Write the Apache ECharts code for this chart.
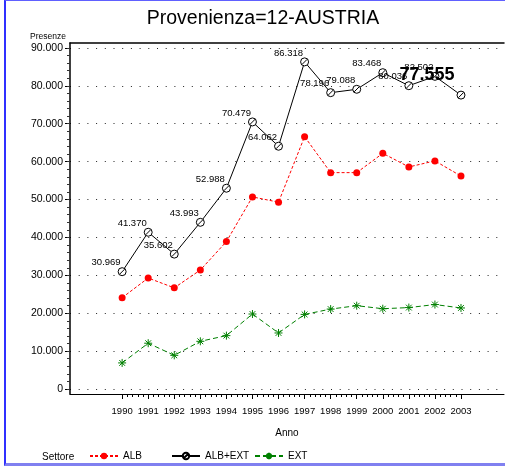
<!DOCTYPE html>
<html>
<head>
<meta charset="utf-8">
<script src="https://cdn.jsdelivr.net/npm/echarts@6/dist/echarts.min.js"></script>
<style>
html,body{margin:0;padding:0;background:#fff;}
#wrap{position:relative;width:505px;height:467px;overflow:hidden;}
#chart{position:absolute;left:0;top:0;width:505px;height:467px;}
#frame{position:absolute;left:4px;top:0;width:620px;height:462px;border-left:2px solid #3030ff;border-top:1px solid #6060ff;border-bottom:3px solid #8080f0;pointer-events:none;}
</style>
</head>
<body>
<div id="wrap"><div id="chart"></div><div id="frame"></div></div>
<script>
// ---- data ----
const years = [1990, 1991, 1992, 1993, 1994, 1995, 1996, 1997, 1998, 1999, 2000, 2001, 2002, 2003];
const albExt = [30969, 41370, 35602, 43993, 52988, 70479, 64062, 86318, 78196, 79088, 83468, 80036, 82502, 77555];
const alb = [24100, 29300, 26700, 31400, 38900, 50700, 49300, 66600, 57100, 57100, 62200, 58600, 60200, 56200];
const ext = [6900, 12100, 8900, 12600, 14100, 19800, 14800, 19700, 21100, 22000, 21200, 21500, 22300, 21400];
const yTicks = [0, 10000, 20000, 30000, 40000, 50000, 60000, 70000, 80000, 90000];
const seriesNames = ['ALB', 'ALB+EXT', 'EXT'];

// ---- helpers ----
const fmt = v => String(Math.round(v)).replace(/\B(?=(\d{3})+(?!\d))/g, '.');
const FONT = "'Liberation Sans', Arial, sans-serif";
const X_MIN = 1988, X_MAX = 2004.65, Y_MIN = -1300, Y_MAX = 91300;

const minorX = [];
for (let y = years[0]; y <= years[years.length - 1] + 1e-9; y += 0.2) minorX.push(+y.toFixed(2));
const minorY = [];
for (let v = yTicks[0]; v <= yTicks[yTicks.length - 1]; v += 2000) minorY.push(v);

const pairs = arr => years.map((y, i) => [y, arr[i]]);
const last = years.length - 1;

const symSlashCircle = 'path://M10,5A5,5,0,1,1,0,5A5,5,0,1,1,10,5ZM1.8,8.2L8.2,1.8';
const symStar = 'path://M5,0L5,10M0,5L10,5M1.4,1.4L8.6,8.6M8.6,1.4L1.4,8.6';

const chart = echarts.init(document.getElementById('chart'), null, {renderer: 'canvas'});
const legendText = {fontFamily: FONT, fontSize: 10, color: '#000'};
const gridRect = {left: 70, right: 1, top: 43, bottom: 73};

chart.setOption({
  animation: false,
  backgroundColor: '#fff',
  title: [
    {text: 'Provenienza=12-AUSTRIA', left: 258, top: 4, textAlign: 'center',
     textStyle: {fontFamily: FONT, fontSize: 19.5, fontWeight: 'normal', color: '#000'}},
    {text: 'Settore', left: 37, top: 447,
     textStyle: {fontFamily: FONT, fontSize: 10, fontWeight: 'normal', color: '#000'}}
  ],
  legend: [
    {data: [seriesNames[0]], left: 84, top: 446, itemWidth: 28, itemHeight: 8, itemGap: 0, textStyle: legendText},
    {data: [seriesNames[1]], left: 166, top: 446, itemWidth: 28, itemHeight: 8, itemGap: 0, textStyle: legendText},
    {data: [seriesNames[2]], left: 249, top: 446, itemWidth: 28, itemHeight: 8, itemGap: 0, textStyle: legendText}
  ],
  grid: [Object.assign({}, gridRect), Object.assign({}, gridRect)],
  xAxis: [
    {gridIndex: 0, type: 'value', min: X_MIN, max: X_MAX, position: 'bottom',
     name: 'Anno', nameLocation: 'middle', nameGap: 34,
     nameTextStyle: {fontFamily: FONT, fontSize: 10, color: '#000'},
     axisLine: {show: true, onZero: false, lineStyle: {color: '#000', width: 1}},
     axisTick: {show: true, customValues: years, length: 5, lineStyle: {color: '#000'}},
     axisLabel: {customValues: years, margin: 12, fontFamily: FONT, fontSize: 9.5, color: '#000',
                 formatter: v => String(Math.round(v))},
     splitLine: {show: false}},
    {gridIndex: 0, type: 'value', min: X_MIN, max: X_MAX, position: 'top',
     axisLine: {show: true, onZero: false, lineStyle: {color: '#000', width: 1.5}},
     axisTick: {show: false}, axisLabel: {show: false}, splitLine: {show: false}},
    {gridIndex: 1, type: 'value', min: X_MIN, max: X_MAX, position: 'bottom',
     axisLine: {show: false, onZero: false},
     axisTick: {show: true, customValues: minorX, length: 3, lineStyle: {color: '#000'}},
     axisLabel: {show: false}, splitLine: {show: false}}
  ],
  yAxis: [
    {gridIndex: 0, type: 'value', min: Y_MIN, max: Y_MAX, position: 'left',
     name: 'Presenze', nameLocation: 'end', nameGap: 2,
     nameTextStyle: {fontFamily: FONT, fontSize: 8.5, color: '#000', align: 'right', padding: [0, 4, 0, 0]},
     axisLine: {show: true, onZero: false, lineStyle: {color: '#000', width: 1.5}},
     axisTick: {show: true, customValues: yTicks, length: 5, lineStyle: {color: '#000'}},
     axisLabel: {customValues: yTicks, margin: 7, fontFamily: FONT, fontSize: 10.5, color: '#000',
                 formatter: v => fmt(v)},
     splitLine: {show: true, lineStyle: {color: '#222', type: [1, 7.7], width: 1}}},
    {gridIndex: 1, type: 'value', min: Y_MIN, max: Y_MAX, position: 'left',
     axisLine: {show: false, onZero: false},
     axisTick: {show: true, customValues: minorY, length: 3, lineStyle: {color: '#333'}},
     axisLabel: {show: false}, splitLine: {show: false}}
  ],
  series: [
    {name: seriesNames[0], type: 'line', data: pairs(alb), z: 3,
     xAxisIndex: 0, yAxisIndex: 0,
     symbol: 'circle', symbolSize: 7,
     itemStyle: {color: '#ff0000'},
     lineStyle: {color: '#ff0000', width: 1, type: [3, 2]}},
    {name: seriesNames[1], type: 'line', z: 5,
     xAxisIndex: 0, yAxisIndex: 0,
     data: pairs(albExt).map((d, i) => i === last ? {
       value: d,
       label: {fontSize: 18, fontWeight: 'bold', offset: [-2, -20]}
     } : {value: d}),
     symbol: symSlashCircle, symbolSize: 8,
     itemStyle: {color: '#fff', borderColor: '#000', borderWidth: 1},
     lineStyle: {color: '#000', width: 1},
     label: {show: true, position: 'left', distance: 0, offset: [3, -9],
             fontFamily: FONT, fontSize: 9.5, color: '#000',
             formatter: p => fmt(p.value[1])}},
    {name: seriesNames[2], type: 'line', data: pairs(ext), z: 4,
     xAxisIndex: 0, yAxisIndex: 0,
     symbol: symStar, symbolSize: 8,
     itemStyle: {color: '#008000', borderColor: '#008000', borderWidth: 1},
     lineStyle: {color: '#008000', width: 1, type: [5, 3]}}
  ]
});
</script>
</body>
</html>
